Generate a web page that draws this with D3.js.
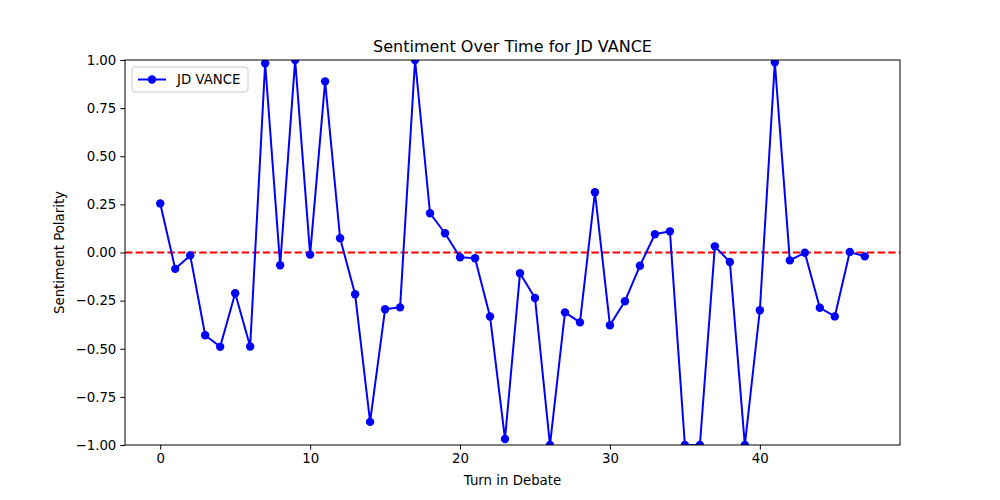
<!DOCTYPE html>
<html>
<head>
<meta charset="utf-8">
<script src="https://cdn.jsdelivr.net/npm/d3@7"></script>
<style>
  body { margin: 0; background: #fff; }
  svg { font-family: "DejaVu Sans", sans-serif; }
</style>
</head>
<body>
<svg id="chart" width="1000" height="500"></svg>
<script>
const turns = d3.range(48);
const sentiment = [0.255, -0.085, -0.015, -0.43, -0.49, -0.212, -0.488, 0.983, -0.066, 1.0,
  -0.011, 0.889, 0.074, -0.217, -0.88, -0.295, -0.285, 1.0, 0.204, 0.10,
  -0.025, -0.03, -0.332, -0.969, -0.108, -0.236, -1.0, -0.311, -0.363, 0.313,
  -0.378, -0.253, -0.069, 0.095, 0.11, -1.0, -1.0, 0.032, -0.049, -1.0,
  -0.30, 0.988, -0.041, -0.001, -0.287, -0.332, 0.003, -0.02];
const xTicks = [0, 10, 20, 30, 40];
const yTicks = [-1.0, -0.75, -0.5, -0.25, 0, 0.25, 0.5, 0.75, 1.0];
const seriesName = "JD VANCE";

const svg = d3.select("#chart");
const L = 125, R = 900, T = 60, B = 445;
const x = d3.scaleLinear().domain([-2.35, 49.35]).range([L, R]);
const y = d3.scaleLinear().domain([-1, 1]).range([B, T]);

svg.append("defs").append("clipPath").attr("id", "clip")
  .append("rect").attr("x", L).attr("y", T).attr("width", R - L).attr("height", B - T);

const g = svg.append("g").attr("clip-path", "url(#clip)");

g.append("line")
  .attr("x1", L).attr("x2", R).attr("y1", y(0)).attr("y2", y(0))
  .attr("stroke", "red").attr("stroke-width", 2).attr("stroke-dasharray", "7.4,3.2");

const line = d3.line().x((d, i) => x(turns[i])).y(d => y(d));
g.append("path").datum(sentiment)
  .attr("d", line).attr("fill", "none").attr("stroke", "blue").attr("stroke-width", 2)
  .attr("stroke-linejoin", "round");
g.selectAll("circle.pt").data(sentiment).enter().append("circle")
  .attr("class", "pt")
  .attr("cx", (d, i) => x(turns[i])).attr("cy", d => y(d)).attr("r", 4.2).attr("fill", "blue");

// Axes
const xAxis = d3.axisBottom(x).tickValues(xTicks).tickSize(4.67).tickPadding(4).tickFormat(d3.format("d"));
const yAxis = d3.axisLeft(y).tickValues(yTicks).tickSize(4.67).tickPadding(4).tickFormat(d3.format(".2f"));
const gx = svg.append("g").attr("transform", `translate(0,${B})`).call(xAxis);
const gy = svg.append("g").attr("transform", `translate(${L},0)`).call(yAxis);
[gx, gy].forEach(a => {
  a.select(".domain").remove();
  a.selectAll("text").attr("font-size", "13.33px").attr("fill", "#000").attr("font-family", "DejaVu Sans");
  a.selectAll("line").attr("stroke", "#000").attr("stroke-width", 1);
});
gy.selectAll("text").text(d => d3.format(".2f")(d).replace("-", "\u2212"));

svg.append("rect").attr("x", L).attr("y", T).attr("width", R - L).attr("height", B - T)
  .attr("fill", "none").attr("stroke", "#000").attr("stroke-width", 1);

// Title and labels
svg.append("text").attr("x", (L + R) / 2).attr("y", 52).attr("text-anchor", "middle")
  .attr("font-size", "16px").text("Sentiment Over Time for JD VANCE");
svg.append("text").attr("x", (L + R) / 2).attr("y", 485).attr("text-anchor", "middle")
  .attr("font-size", "13.33px").text("Turn in Debate");
svg.append("text").attr("transform", `translate(64,${(T + B) / 2}) rotate(-90)`).attr("text-anchor", "middle")
  .attr("font-size", "13.33px").text("Sentiment Polarity");

// Legend
const lg = svg.append("g");
lg.append("rect").attr("x", 132).attr("y", 67).attr("width", 116).attr("height", 25)
  .attr("rx", 3).attr("fill", "#fff").attr("fill-opacity", 0.8).attr("stroke", "#ccc").attr("stroke-width", 1);
lg.append("line").attr("x1", 138).attr("x2", 166).attr("y1", 79.5).attr("y2", 79.5)
  .attr("stroke", "blue").attr("stroke-width", 2);
lg.append("circle").attr("cx", 152).attr("cy", 79.5).attr("r", 4.2).attr("fill", "blue");
lg.append("text").attr("x", 177).attr("y", 84).attr("font-size", "13.33px").text(seriesName);
</script>
</body>
</html>
